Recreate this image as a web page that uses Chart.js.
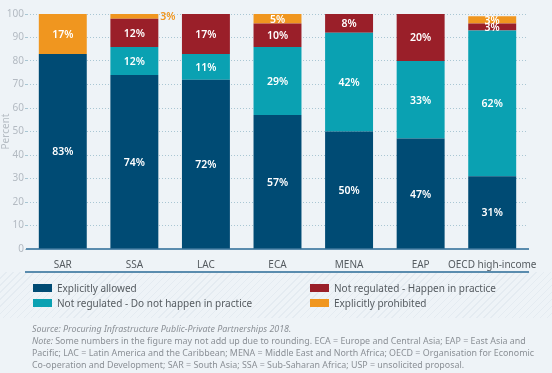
<!DOCTYPE html>
<html>
<head>
<meta charset="utf-8">
<script src="https://cdn.jsdelivr.net/npm/chart.js@4"></script>
<style>
  body { margin: 0; width: 552px; height: 373px; background: #eef3f7; font-family: "Noto Sans", sans-serif; position: relative; overflow: hidden; }
  #wrap { position: absolute; left: 0; top: 0; width: 552px; height: 272px; }
  #hatch { position: absolute; left: 0; top: 272px; width: 552px; height: 46px;
    background: repeating-linear-gradient(135deg, #eef3f7 0px, #eef3f7 4px, #e4ebf1 4px, #e4ebf1 5px); }
  #rule { position: absolute; left: 25px; top: 271px; width: 504px; height: 2px; background: #5a8cae; }
  .leg { position: absolute; font-size: 10px; color: #555b60; line-height: 14px; white-space: nowrap; }
  .leg i { display: inline-block; width: 19px; height: 8px; margin-right: 5px; vertical-align: 0px; }
  #notes { position: absolute; left: 32px; top: 323px; font-size: 8.9px; line-height: 12px; color: #8b9096; white-space: nowrap; }
</style>
</head>
<body>
<div id="wrap"><canvas id="barChart"></canvas></div>
<div id="hatch"></div>
<div id="rule"></div>
<div id="legend"></div>
<div id="notes">
  <i>Source: Procuring Infrastructure Public-Private Partnerships 2018.</i><br>
  <i>Note:</i> Some numbers in the figure may not add up due to rounding. ECA = Europe and Central Asia; EAP = East Asia and<br>
  Pacific; LAC = Latin America and the Caribbean; MENA = Middle East and North Africa; OECD = Organisation for Economic<br>
  Co-operation and Development; SAR = South Asia; SSA = Sub-Saharan Africa; USP = unsolicited proposal.
</div>
<script>
const categories = ['SAR', 'SSA', 'LAC', 'ECA', 'MENA', 'EAP', 'OECD high-income'];
const explicitlyAllowed = [83, 74, 72, 57, 50, 47, 31];
const notRegulatedNo = [0, 12, 11, 29, 42, 33, 62];
const notRegulatedYes = [0, 12, 17, 10, 8, 20, 3];
const explicitlyProhibited = [17, 3, 0, 5, 0, 0, 3];
const seriesNames = ['Explicitly allowed', 'Not regulated - Do not happen in practice',
  'Not regulated - Happen in practice', 'Explicitly prohibited'];
const seriesColors = ['#004b74', '#0aa1b2', '#9a1f29', '#f0961f'];

// legend (two columns, drawn as html)
const legendPos = [[33, 281], [33, 296], [310, 281], [310, 296]];
const legend = document.getElementById('legend');
seriesNames.forEach((name, i) => {
  const d = document.createElement('div');
  d.className = 'leg';
  d.style.left = legendPos[i][0] + 'px';
  d.style.top = legendPos[i][1] + 'px';
  d.innerHTML = '<i style="background:' + seriesColors[i] + '"></i>' + name;
  legend.appendChild(d);
});

// white % labels in the middle of each segment
const segmentLabels = {
  id: 'segmentLabels',
  afterDatasetsDraw(chart) {
    const { ctx, chartArea } = chart;
    ctx.save();
    ctx.font = '600 10.5px "Noto Sans"';
    ctx.textBaseline = 'middle';
    chart.data.datasets.forEach((ds, i) => {
      chart.getDatasetMeta(i).data.forEach((bar, j) => {
        const v = ds.data[j];
        if (!v) return;
        const top = Math.max(bar.y, chartArea.top);
        const mid = (top + bar.base) / 2;
        if (i == 3 && categories[j] == 'SSA') {
          // label sits outside, right of the bar
          ctx.fillStyle = seriesColors[3];
          ctx.textAlign = 'left';
          ctx.fillText(v + '%', bar.x + bar.width / 2 + 2, mid + 1);
        } else {
          ctx.fillStyle = '#ffffff';
          ctx.textAlign = 'center';
          ctx.fillText(v + '%', bar.x, mid + 1);
        }
      });
    });
    ctx.restore();
  }
};

const ctxBar = document.getElementById('barChart').getContext('2d');
const barChart = new Chart(ctxBar, {
  type: 'bar',
  data: {
    labels: categories,
    datasets: [explicitlyAllowed, notRegulatedNo, notRegulatedYes, explicitlyProhibited].map((d, i) => ({
      label: seriesNames[i],
      data: d,
      backgroundColor: seriesColors[i],
      borderWidth: 0,
      categoryPercentage: 1,
      barPercentage: 0.67
    }))
  },
  options: {
    responsive: true,
    maintainAspectRatio: false,
    animation: false,
    layout: { padding: { top: 14, right: 24, left: 0, bottom: 0 } },
    plugins: {
      legend: { display: false },
      tooltip: { enabled: false }
    },
    scales: {
      x: {
        stacked: true,
        grid: { display: false },
        border: { display: true, color: '#5a8cae', width: 2 },
        ticks: { color: '#555b60', font: { family: 'Noto Sans', size: 10 }, padding: 2, maxRotation: 0, autoSkip: false },
        afterFit(scale) { scale.height = 23; }
      },
      y: {
        stacked: true,
        min: 0,
        max: 100,
        title: { display: true, text: 'Percent', color: '#b5bcc3', font: { family: 'Noto Sans', size: 10 }, padding: { top: 0, bottom: 0 } },
        grid: { color: '#a9c6d3', drawTicks: true, tickLength: 2 },
        border: { display: false, dash: [1, 2] },
        ticks: { stepSize: 10, color: '#b3bac2', font: { family: 'Noto Sans', size: 10 }, padding: 1 },
        afterFit(scale) { scale.width = 27; }
      }
    }
  },
  plugins: [segmentLabels]
});
</script>
</body>
</html>
